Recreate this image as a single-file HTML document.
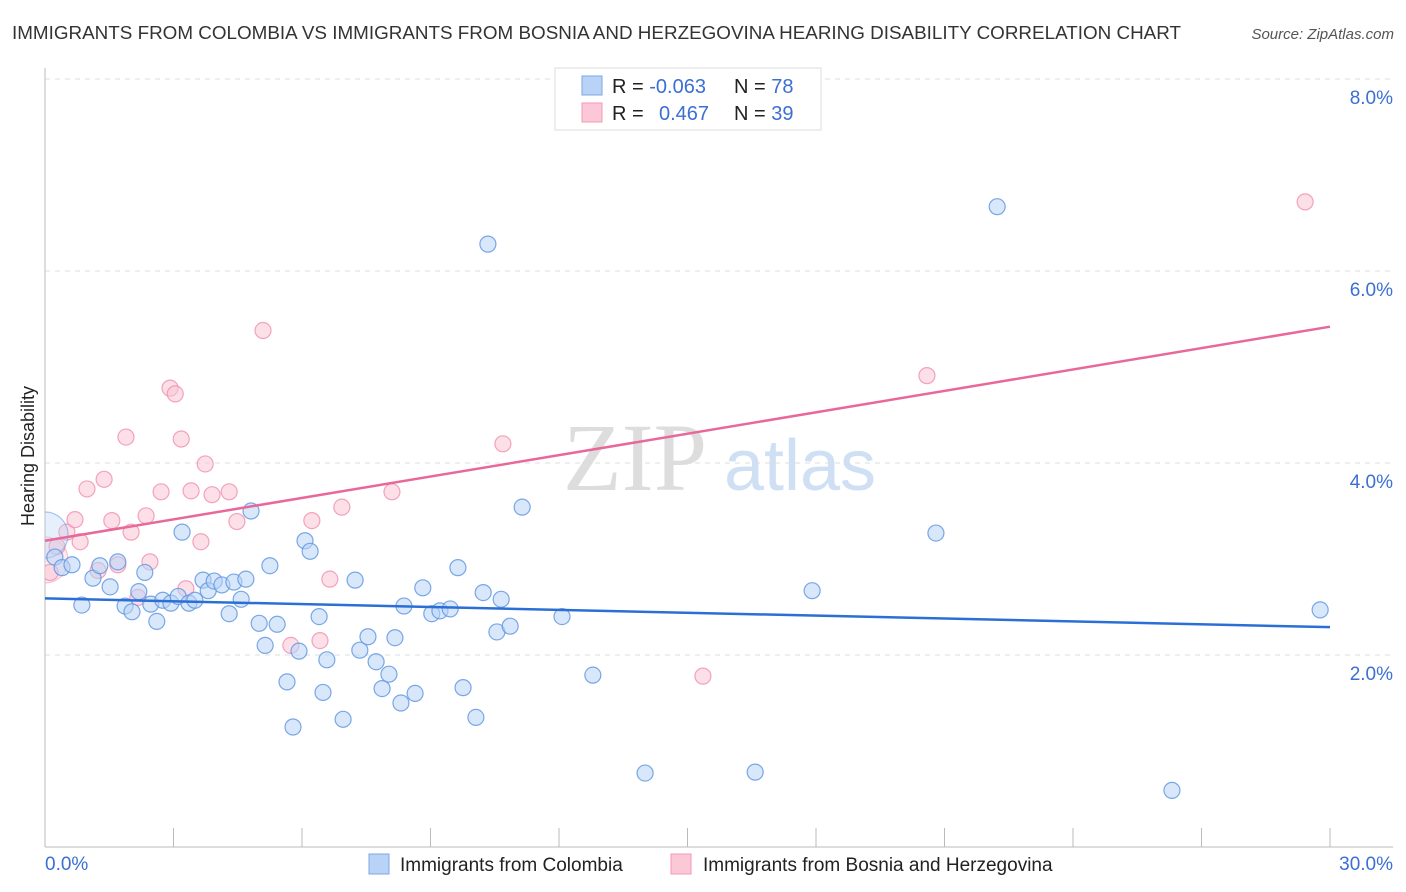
<!DOCTYPE html>
<html><head><meta charset="utf-8"><style>
body{margin:0;background:#fff;font-family:"Liberation Sans",sans-serif;}
svg{display:block}
</style></head><body>
<svg id="chart" width="1406" height="892" xmlns="http://www.w3.org/2000/svg">
<defs><clipPath id="plotclip"><rect x="45" y="60" width="1360" height="787"/></clipPath></defs>
<text x="12" y="39" font-size="18.5" fill="#333" textLength="1169" lengthAdjust="spacingAndGlyphs">IMMIGRANTS FROM COLOMBIA VS IMMIGRANTS FROM BOSNIA AND HERZEGOVINA HEARING DISABILITY CORRELATION CHART</text>
<text x="1394" y="39" font-size="15" fill="#555" font-style="italic" text-anchor="end">Source: ZipAtlas.com</text>
<text x="635" y="490" font-size="96" fill="#ddd" text-anchor="middle" font-family="Liberation Serif,serif">ZIP</text>
<text x="800" y="490" font-size="72" fill="#cfe0f5" text-anchor="middle">atlas</text>
<g id="grid"></g>
<g id="axes"></g>
<g id="points" clip-path="url(#plotclip)"></g>
<g id="lines"></g>
<text transform="translate(34,456) rotate(-90)" font-size="18" fill="#222" text-anchor="middle">Hearing Disability</text>
<g>
<rect x="555" y="68" width="266" height="62" fill="#fff" stroke="#ddd"/>
<rect x="582" y="76" width="20" height="19" fill="#b8d3f5" stroke="#7aa7e6"/>
<rect x="582" y="103" width="20" height="19" fill="#fcc8d8" stroke="#f29ab5"/>
<text x="612" y="93" font-size="20" fill="#222">R = <tspan fill="#3b6fd4">-0.063</tspan></text>
<text x="734" y="93" font-size="20" fill="#222">N = <tspan fill="#3b6fd4">78</tspan></text>
<text x="612" y="120" font-size="20" fill="#222">R = <tspan fill="#3b6fd4" x="659">0.467</tspan></text>
<text x="734" y="120" font-size="20" fill="#222">N = <tspan fill="#3b6fd4">39</tspan></text>
</g>
<g>
<rect x="369" y="854" width="20" height="20" fill="#b8d3f5" stroke="#7aa7e6"/>
<text x="400" y="871" font-size="19" fill="#222">Immigrants from Colombia</text>
<rect x="671" y="854" width="20" height="20" fill="#fcc8d8" stroke="#f29ab5"/>
<text x="703" y="871" font-size="19" fill="#222">Immigrants from Bosnia and Herzegovina</text>
</g>
</svg>
<script>
const blueX=[0,0.23,0.40,0.63,1.12,1.28,0.86,1.52,1.70,1.87,2.03,2.19,2.33,2.47,2.61,2.75,2.94,3.11,3.20,3.36,3.50,3.69,3.81,3.95,4.13,4.30,4.41,4.58,4.69,4.81,5.00,5.14,5.25,5.42,5.65,5.79,5.93,6.07,6.19,6.40,6.49,6.58,6.96,7.24,7.35,7.54,7.73,7.87,8.03,8.17,8.31,8.38,8.64,8.82,9.03,9.22,9.46,9.64,9.76,10.06,10.23,10.34,10.55,10.65,10.86,11.14,12.07,12.79,14.01,16.58,17.91,20.80,22.23,26.31,29.77];
const blueY=[3.25,3.02,2.91,2.94,2.80,2.93,2.52,2.71,2.97,2.51,2.45,2.66,2.86,2.53,2.35,2.57,2.54,2.61,3.28,2.54,2.57,2.78,2.67,2.77,2.73,2.43,2.76,2.58,2.79,3.50,2.33,2.10,2.93,2.32,1.72,1.25,2.04,3.19,3.08,2.40,1.61,1.95,1.33,2.78,2.05,2.19,1.93,1.65,1.80,2.18,1.50,2.51,1.60,2.70,2.43,2.46,2.48,2.91,1.66,1.35,2.65,6.28,2.24,2.58,2.30,3.54,2.40,1.79,0.77,0.78,2.67,3.27,6.67,0.59,2.47];
const pinkX=[0,0.12,0.28,0.51,0.70,0.82,0.98,1.24,1.38,1.56,1.70,1.89,2.01,2.17,2.36,2.45,2.71,2.92,3.04,3.18,3.29,3.41,3.64,3.74,3.90,4.30,4.48,5.09,5.74,6.23,6.42,6.65,6.93,8.10,10.69,15.36,20.59,29.42];
const pinkY=[2.99,2.86,3.13,3.28,3.41,3.18,3.73,2.88,3.83,3.40,2.94,4.27,3.28,2.60,3.45,2.97,3.70,4.78,4.72,4.25,2.69,3.71,3.18,3.99,3.67,3.70,3.39,5.38,2.10,3.40,2.15,2.79,3.54,3.70,4.20,1.78,4.91,6.72];
const blueTrend=[2.59,2.29];
const pinkTrend=[3.19,5.42];
const yTicks=[2,4,6,8];
const xTickVals=[0,3,6,9,12,15,18,21,24,27,30];
const NS='http://www.w3.org/2000/svg';
const sx=v=>45+v/30*1285;
const sy=v=>847-v*96;
function mk(tag,attrs,parent){const e=document.createElementNS(NS,tag);for(const k in attrs)e.setAttribute(k,attrs[k]);parent.appendChild(e);return e;}
const grid=document.getElementById('grid'),axes=document.getElementById('axes'),pts=document.getElementById('points'),lines=document.getElementById('lines');
yTicks.forEach(t=>{
 const l=mk('line',{x1:45,x2:1393,y1:sy(t),y2:sy(t),stroke:'#ddd','stroke-dasharray':'5,5'},grid);
 
 
 const tx=mk('text',{x:1393,y:sy(t)+25,'font-size':19,fill:'#3b6fd4','text-anchor':'end'},axes);
 tx.textContent=t.toFixed(1)+'%';
 
 
});
const ax=mk('line',{x1:45,x2:45,y1:68,y2:847,stroke:'#bbb'},axes);


const bx=mk('line',{x1:45,x2:1393,y1:847,y2:847,stroke:'#bbb'},axes);


xTickVals.forEach(t=>{
 const l=mk('line',{x1:sx(t),x2:sx(t),y1:828,y2:847,stroke:'#bbb'},axes);
 
 
});
const x0=mk('text',{x:45,y:870,'font-size':19,fill:'#3b6fd4'},axes);x0.textContent='0.0%';


const x1=mk('text',{x:1393,y:870,'font-size':19,fill:'#3b6fd4','text-anchor':'end'},axes);x1.textContent='30.0%';


function drawPts(X,Y,fill,stroke,name){
 X.forEach((x,i)=>{
  const big=i===0;
  const r=big?23:8;
  const c=mk('circle',{cx:sx(x),cy:sy(Y[i]),r:r,fill:fill,'fill-opacity':big?0.35:0.55,stroke:stroke,'stroke-width':1.2,'stroke-opacity':big?0.5:0.8},pts);
  
  
 });
}
drawPts(pinkX,pinkY,'#fbc5d5','#ef8fb0','point-bosnia');
drawPts(blueX,blueY,'#b8d3f5','#5b93e0','point-colombia');
const bl=mk('line',{x1:sx(0),x2:sx(30),y1:sy(blueTrend[0]),y2:sy(blueTrend[1]),stroke:'#2b6fd6','stroke-width':2.5},lines);


const pl=mk('line',{x1:sx(0),x2:sx(30),y1:sy(pinkTrend[0]),y2:sy(pinkTrend[1]),stroke:'#e8689a','stroke-width':2.5},lines);


</script>
</body></html>
